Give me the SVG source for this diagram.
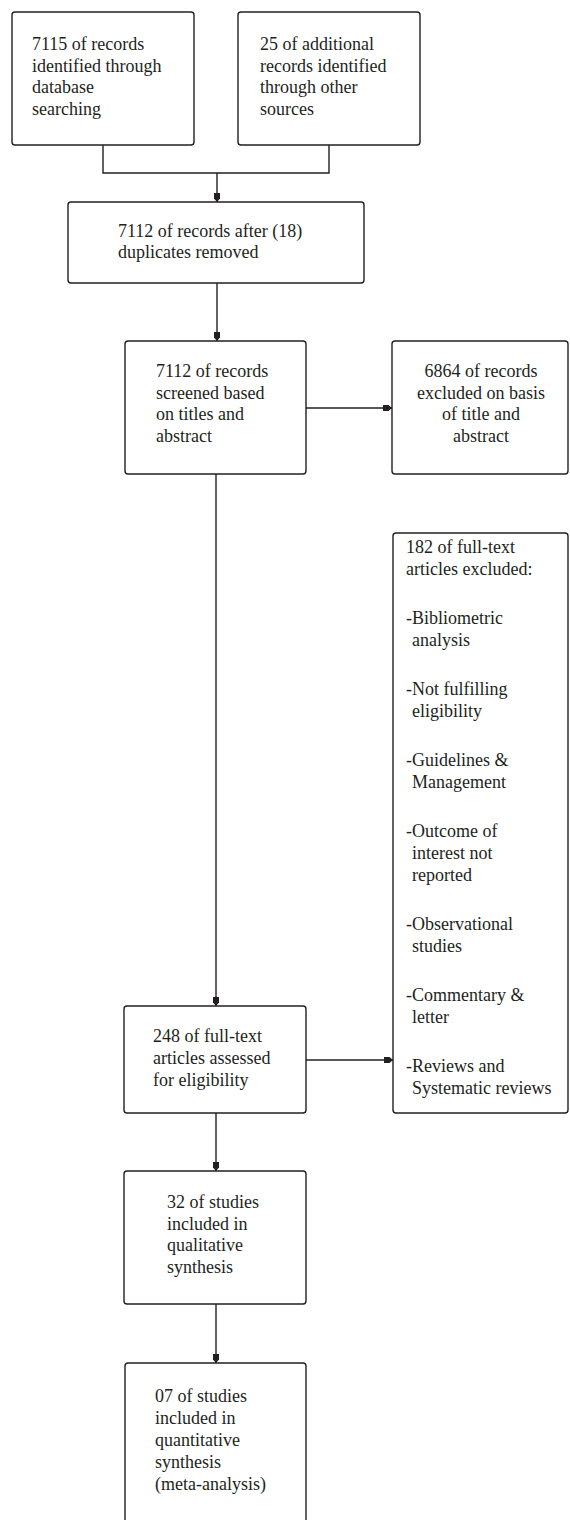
<svg xmlns="http://www.w3.org/2000/svg" width="570" height="1520" viewBox="0 0 570 1520">
<style>
.box{fill:#fff;stroke:#231f20;stroke-width:1.4}
.t{font-family:"Liberation Serif","Times New Roman",serif;font-size:18px;fill:#231f20}
.c{text-anchor:middle}
.ln{fill:none;stroke:#231f20;stroke-width:1.4}
</style>
<defs>
<marker id="ah" markerUnits="userSpaceOnUse" markerWidth="12" markerHeight="10" refX="9" refY="5" orient="auto">
<path d="M0,2 L5.5,2 L9,5 L5.5,8 L0,8 Z" fill="#231f20"/>
</marker>
</defs>
<rect width="570" height="1520" fill="#fff"/>
<g id="connectors">
<path class="ln" d="M103,145 V173 H329 V145"/>
<path class="ln" d="M217,173 V202" marker-end="url(#ah)"/>
<path class="ln" d="M217,283 V341" marker-end="url(#ah)"/>
<path class="ln" d="M306,408 H392" marker-end="url(#ah)"/>
<path class="ln" d="M216,474 V1006" marker-end="url(#ah)"/>
<path class="ln" d="M306,1060 H393" marker-end="url(#ah)"/>
<path class="ln" d="M216,1113 V1171" marker-end="url(#ah)"/>
<path class="ln" d="M216,1304 V1363" marker-end="url(#ah)"/>
</g>
<g id="n1">
<rect class="box" x="12" y="12" width="182" height="133" rx="3"/>
<text class="t" x="32" y="50">7115 of records</text>
<text class="t" x="32" y="71.5">identified through</text>
<text class="t" x="32" y="93">database</text>
<text class="t" x="32" y="114.5">searching</text>
</g>
<g id="n2">
<rect class="box" x="238" y="12" width="182" height="133" rx="3"/>
<text class="t" x="260" y="50">25 of additional</text>
<text class="t" x="260" y="71.5">records identified</text>
<text class="t" x="260" y="93">through other</text>
<text class="t" x="260" y="114.5">sources</text>
</g>
<g id="n3">
<rect class="box" x="68" y="202" width="296" height="81" rx="3"/>
<text class="t" x="118" y="237">7112 of records after (18)</text>
<text class="t" x="118" y="258">duplicates removed</text>
</g>
<g id="n4">
<rect class="box" x="125" y="341" width="181" height="133" rx="3"/>
<text class="t" x="156" y="377">7112 of records</text>
<text class="t" x="156" y="398.5">screened based</text>
<text class="t" x="156" y="420">on titles and</text>
<text class="t" x="156" y="441.5">abstract</text>
</g>
<g id="n5">
<rect class="box" x="392" y="341" width="176" height="133" rx="3"/>
<text class="t c" x="481" y="377">6864 of records</text>
<text class="t c" x="481" y="398.5">excluded on basis</text>
<text class="t c" x="481" y="420">of title and</text>
<text class="t c" x="481" y="441.5">abstract</text>
</g>
<g id="n6">
<rect class="box" x="124" y="1006" width="182" height="107" rx="3"/>
<text class="t" x="153" y="1042">248 of full-text</text>
<text class="t" x="153" y="1064">articles assessed</text>
<text class="t" x="153" y="1086">for eligibility</text>
</g>
<g id="n7">
<rect class="box" x="393" y="533" width="175" height="580" rx="3"/>
<text class="t" x="406" y="553">182 of full-text</text>
<text class="t" x="406" y="575">articles excluded:</text>
<text class="t" x="406" y="624">-Bibliometric</text>
<text class="t" x="412" y="646">analysis</text>
<text class="t" x="406" y="695">-Not fulfilling</text>
<text class="t" x="412" y="717">eligibility</text>
<text class="t" x="406" y="766">-Guidelines &amp;</text>
<text class="t" x="412" y="788">Management</text>
<text class="t" x="406" y="837">-Outcome of</text>
<text class="t" x="412" y="859">interest not</text>
<text class="t" x="412" y="881">reported</text>
<text class="t" x="406" y="930">-Observational</text>
<text class="t" x="412" y="952">studies</text>
<text class="t" x="406" y="1001">-Commentary &amp;</text>
<text class="t" x="412" y="1023">letter</text>
<text class="t" x="406" y="1072">-Reviews and</text>
<text class="t" x="412" y="1094">Systematic reviews</text>
</g>
<g id="n8">
<rect class="box" x="124" y="1171" width="182" height="133" rx="3"/>
<text class="t" x="167" y="1208">32 of studies</text>
<text class="t" x="167" y="1229.5">included in</text>
<text class="t" x="167" y="1251">qualitative</text>
<text class="t" x="167" y="1272.5">synthesis</text>
</g>
<g id="n9">
<rect class="box" x="125" y="1363" width="181" height="180" rx="3"/>
<text class="t" x="155" y="1402">07 of studies</text>
<text class="t" x="155" y="1424">included in</text>
<text class="t" x="155" y="1446">quantitative</text>
<text class="t" x="155" y="1468">synthesis</text>
<text class="t" x="155" y="1490">(meta-analysis)</text>
</g>
</svg>
